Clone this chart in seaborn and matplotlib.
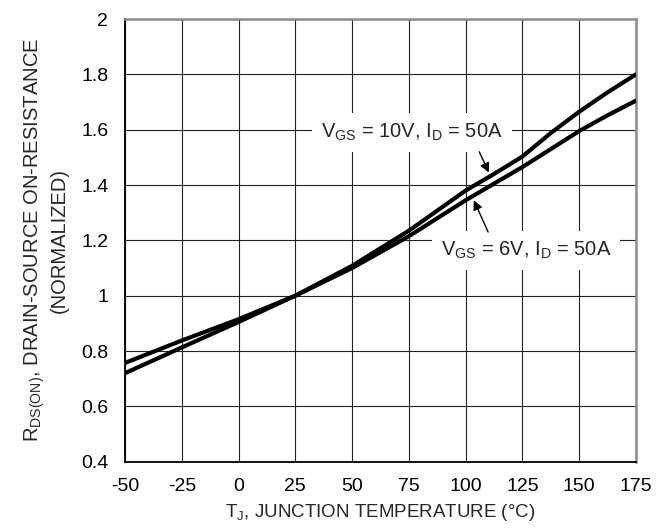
import matplotlib
matplotlib.use("Agg")
import matplotlib.pyplot as plt
import numpy as np
import pandas as pd
import seaborn as sns

# Normalized on-resistance vs. junction temperature
temp_10v = [-50, -25, 0, 25, 50, 75, 100, 112.5, 125, 137.5, 150, 162.5, 175]
rds_10v = [0.72, 0.813, 0.905, 1.0, 1.108, 1.235, 1.38, 1.44, 1.503, 1.588, 1.665, 1.735, 1.80]

temp_6v = [-50, -25, 0, 25, 50, 75, 100, 125, 150, 162.5, 175]
rds_6v = [0.757, 0.838, 0.915, 1.0, 1.10, 1.215, 1.345, 1.465, 1.595, 1.652, 1.705]

x_ticks = [-50, -25, 0, 25, 50, 75, 100, 125, 150, 175]
y_ticks = [0.4, 0.6, 0.8, 1.0, 1.2, 1.4, 1.6, 1.8, 2.0]
y_tick_labels = ["0.4", "0.6", "0.8", "1", "1.2", "1.4", "1.6", "1.8", "2"]

label_10v = r"$\mathregular{V_{GS}}$ = 10V, $\mathregular{I_D}$ = 50A"
label_6v = r"$\mathregular{V_{GS}}$ = 6V, $\mathregular{I_D}$ = 50A"

df = pd.concat([
    pd.DataFrame({"T": temp_10v, "R": rds_10v, "cond": "10V"}),
    pd.DataFrame({"T": temp_6v, "R": rds_6v, "cond": "6V"}),
])

sns.set_theme(style="white")
plt.rcParams["font.family"] = ["Liberation Sans", "Noto Sans CJK SC", "DejaVu Sans"]
plt.rcParams["mathtext.fontset"] = "custom"
plt.rcParams["mathtext.rm"] = "Liberation Sans"
plt.rcParams["mathtext.it"] = "Liberation Sans"

fig = plt.figure(figsize=(6.71, 5.31), dpi=100)
ax = fig.add_axes([0.1863, 0.1305, 0.7615, 0.8337])

sns.lineplot(data=df, x="T", y="R", hue="cond", palette={"10V": "black", "6V": "black"},
             linewidth=3.0, legend=False, sort=False, ax=ax, zorder=3)

ax.set_xlim(-50, 175)
ax.set_ylim(0.4, 2.0)
ax.set_xticks(x_ticks)
ax.set_xticklabels([str(t) for t in x_ticks])
ax.set_yticks(y_ticks)
ax.set_yticklabels(y_tick_labels)
ax.tick_params(axis="both", length=0, labelsize=14, colors="black")
ax.tick_params(axis="x", pad=12)
ax.tick_params(axis="y", pad=12)

ax.grid(True, color="#222222", linewidth=0.8)
ax.set_axisbelow(True)

for side in ("left", "bottom"):
    ax.spines[side].set_color("black")
    ax.spines[side].set_linewidth(1.3)
for side in ("top", "right"):
    ax.spines[side].set_color("#8c8c8c")
    ax.spines[side].set_linewidth(1.8)

ax.set_xlabel(r"$\mathregular{T_J}$, JUNCTION TEMPERATURE (°C)", fontsize=13.5, labelpad=5)
ax.set_ylabel(r"$\mathregular{R_{DS(ON)}}$, DRAIN-SOURCE ON-RESISTANCE" "\n" "(NORMALIZED)",
              fontsize=14.5, labelpad=9, linespacing=1.15)

box = dict(boxstyle="square,pad=0.45", facecolor="white", edgecolor="none")
ax.text(76.3, 1.59, label_10v, fontsize=14.5, ha="center", va="center", bbox=box, zorder=4)
ax.text(126.6, 1.164, label_6v, fontsize=14.5, ha="center", va="center", bbox=box, zorder=4)

arrow = dict(arrowstyle="-|>", color="black", lw=1.0, mutation_scale=14, shrinkA=0, shrinkB=0)
ax.annotate("", xy=(110.2, 1.445), xytext=(106.0, 1.52), arrowprops=arrow, zorder=5)
ax.annotate("", xy=(103.6, 1.345), xytext=(109.9, 1.23), arrowprops=arrow, zorder=5)

fig.savefig("out.png", dpi=100)
